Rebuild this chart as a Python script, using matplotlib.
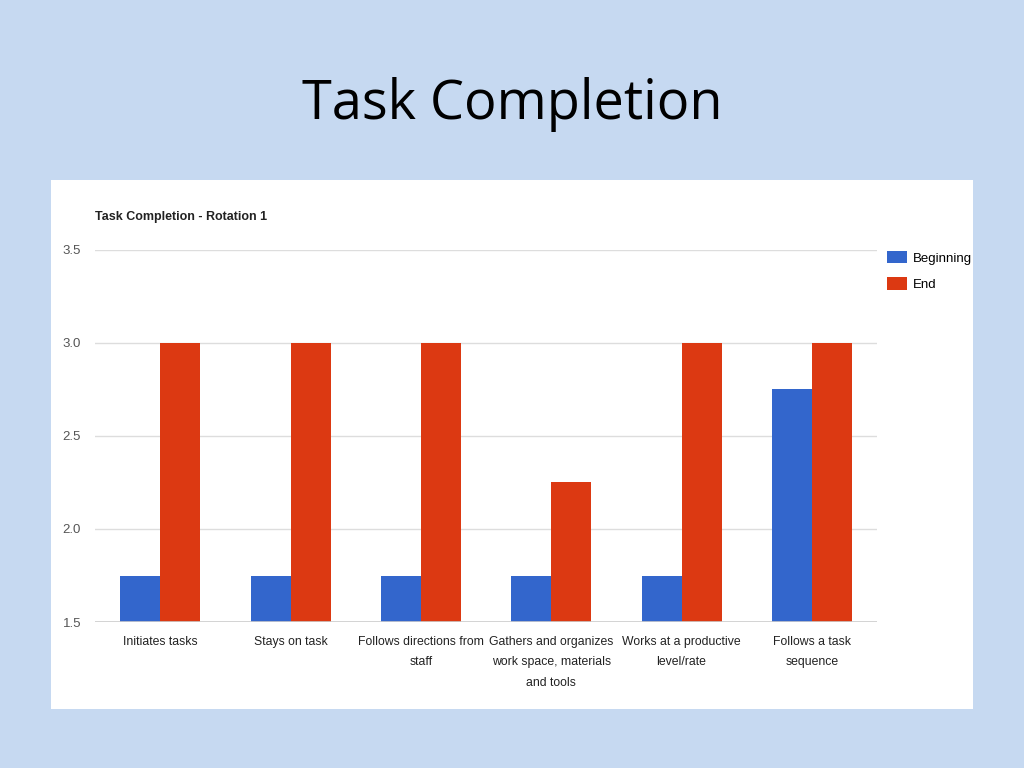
import matplotlib.pyplot as plt
from matplotlib.patches import Rectangle
import numpy as np

# Data
categories = ["Initiates tasks", "Stays on task", "Follows directions from\nstaff",
              "Gathers and organizes\nwork space, materials\nand tools",
              "Works at a productive\nlevel/rate", "Follows a task\nsequence"]
beginning = [1.75, 1.75, 1.75, 1.75, 1.75, 2.75]
end = [3.0, 3.0, 3.0, 2.25, 3.0, 3.0]
yticks = [1.5, 2.0, 2.5, 3.0, 3.5]

plt.rcParams['font.family'] = ['Liberation Sans Narrow', 'Liberation Sans', 'DejaVu Sans']

fig = plt.figure(figsize=(10.24, 7.68), dpi=100)
fig.patch.set_facecolor('#c6d9f1')

# slide title
fig.text(0.5, 0.864, "Task Completion", ha='center', va='center', fontsize=39,
         family=['Open Sans', 'DejaVu Sans'], color='black')

# white chart panel
panel = Rectangle((0.0498, 0.0768), 0.9004, 0.6888, transform=fig.transFigure,
                  facecolor='white', edgecolor='none', zorder=-5)
fig.add_artist(panel)

ax = fig.add_axes([0.0928, 0.1901, 0.7637, 0.4844])
ax.set_facecolor('white')

x = np.arange(len(categories))
w = 0.307
ax.bar(x - w / 2, beginning, w, color='#3366cc', label='Beginning', zorder=3)
ax.bar(x + w / 2, end, w, color='#dc3912', label='End', zorder=3)

ax.set_xlim(-0.5, len(categories) - 0.5)
ax.set_ylim(1.5, 3.5)
ax.set_yticks(yticks)
ax.set_yticklabels([f"{v:.1f}" for v in yticks], fontsize=9.5, color='#555555')
ax.set_xticks(x)
ax.set_xticklabels(categories, fontsize=8.8, color='#222222', linespacing=1.95)
ax.tick_params(length=0)
ax.tick_params(axis='y', pad=10)
ax.tick_params(axis='x', pad=10)
for v in yticks[1:]:
    ax.axhline(v, color='#dddddd', lw=1, zorder=1)
ax.axhline(1.5, color='#cccccc', lw=1.2, zorder=4)
for s in ax.spines.values():
    s.set_visible(False)

fig.text(0.0928, 0.717, "Task Completion - Rotation 1", fontsize=9, fontweight='bold',
         color='#222222', va='center')

ax.legend(loc='upper left', bbox_to_anchor=(0.998, 1.03), frameon=False, fontsize=9.5,
          handlelength=1.5, handleheight=1.1, handletextpad=0.4, labelspacing=0.95)

fig.savefig('out.png', dpi=100, facecolor=fig.get_facecolor())
